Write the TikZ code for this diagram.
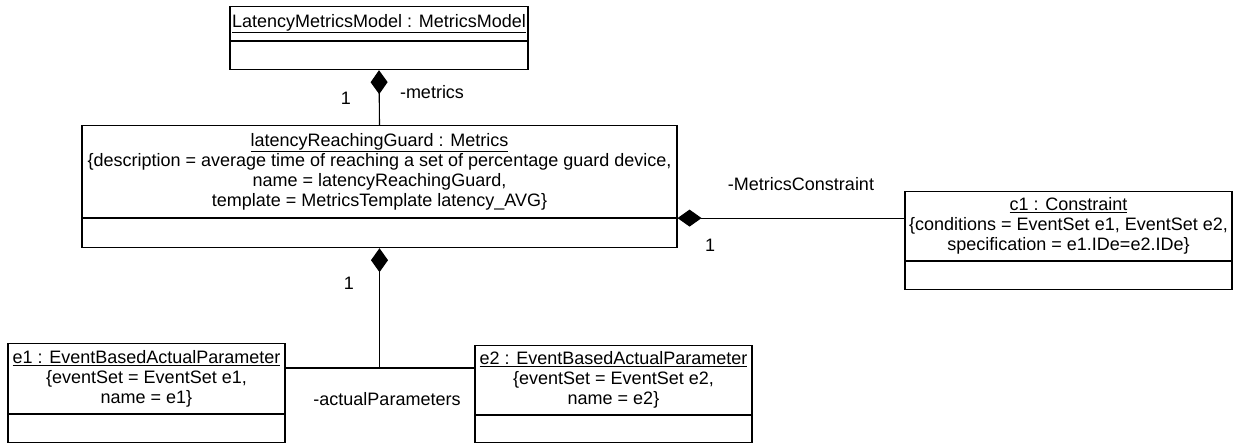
\documentclass[tikz,border=0pt]{standalone}
\usepackage{fontspec}
\setmainfont{Liberation Sans}
\usetikzlibrary{arrows.meta,positioning}
\tikzset{
    umlhead/.style={
        rectangle,
        draw, line width=1.1pt,
        inner sep=0pt,
        align=center,
        anchor=north,
        font={\fontsize{18pt}{20pt}\selectfont}
    },
    umlops/.style={
        rectangle,
        draw, line width=1.1pt,
        inner sep=0pt,
        anchor=north
    },
    assoc/.style={draw, line width=1.1pt},
    compose/.style={assoc, -{Diamond[length=24pt, width=17pt]}},
    role/.style={inner sep=0pt, font={\fontsize{18pt}{20pt}\selectfont}},
}

\begin{document}
\begin{tikzpicture}[x=1pt, y=-1pt]

\useasboundingbox (0,0) rectangle (1234,443);

% objects
\node [umlhead, minimum width=298pt, minimum height=34pt] (model) at (379,6)
  {\underline{LatencyMetricsModel : MetricsModel}};
\node [umlhead, minimum width=595pt, minimum height=92pt] (guard) at (379.5,125)
  {\underline{latencyReachingGuard : Metrics}\\
   \{description = average time of reaching a set of percentage guard device,\\
   name = latencyReachingGuard,\\
   template = MetricsTemplate latency\_AVG\}};
\node [umlhead, minimum width=327pt, minimum height=69pt] (c1) at (1068.5,191)
  {\underline{c1 : Constraint}\\
   \{conditions = EventSet e1, EventSet e2,\\
   specification = e1.IDe=e2.IDe\}};
\node [umlhead, minimum width=277pt, minimum height=70pt] (e1) at (146.5,343)
  {\underline{e1 : EventBasedActualParameter}\\
   \{eventSet = EventSet e1,\\
   name = e1\}};
\node [umlhead, minimum width=277pt, minimum height=69pt] (e2) at (613.5,345)
  {\underline{e2 : EventBasedActualParameter}\\
   \{eventSet = EventSet e2,\\
   name = e2\}};

% empty operation compartments
\foreach \n/\w/\h in {model/298/28, guard/595/29, c1/327/28, e1/277/28, e2/277/27}
  \node [umlops, minimum width=\w pt, minimum height=\h pt] (\n-ops) at (\n.south) {};

% compositions
\draw [compose] (guard.north) -- (model-ops.south);
\draw [compose] (guard.south east -| c1.west) -- (guard.south east);

\coordinate (join) at (379.5,368);
\draw [compose] (join) -- (guard-ops.south);
\draw [assoc] (e1.east |- join) -- (e2.west |- join);

% roles and multiplicities
\node [role] (metrics-mult) at (346,98) {1};
\node [role] (metrics-role) at (432,92) {-metrics};
\node [role] (constraint-role) at (801,184) {-MetricsConstraint};
\node [role] (constraint-mult) at (710,245) {1};
\node [role] (param-mult) at (349,283) {1};
\node [role] (param-role) at (387,399) {-actualParameters};

\end{tikzpicture}
\end{document}
